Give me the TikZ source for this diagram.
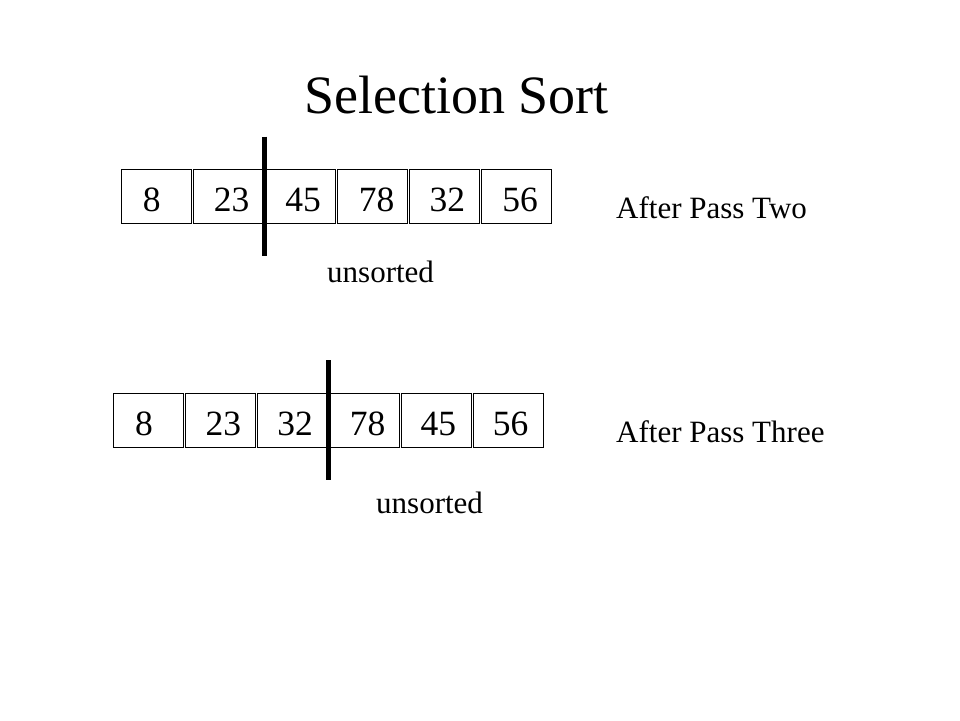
\documentclass[tikz,border=0pt]{standalone}
\usepackage{fontspec}
\setmainfont{Liberation Serif}
\begin{document}
\begin{tikzpicture}[x=1pt,y=-1pt,
  cell/.style={draw=black,line width=1pt,minimum width=70pt,minimum height=54pt,inner sep=0pt,outer sep=0pt,anchor=north west},
  num/.style={font=\fontsize{35.5}{36}\selectfont,anchor=base,inner sep=0pt},
  lbl/.style={font=\fontsize{31}{31}\selectfont,anchor=base west,inner sep=0pt},
  ttl/.style={font=\fontsize{54}{54}\selectfont,anchor=base,inner sep=0pt},
  bar/.style={line width=5pt}]
\fill[white] (0,0) rectangle (960,720);
\useasboundingbox (0,0) rectangle (960,720);
% title
\node[ttl] (title) at (456.5,113) {Selection Sort};
% top row
\foreach \i in {0,...,5} {
  \node[cell] (t\i) at (121.7+71.9*\i,169.3) {};
}
\node[num] (nt0) at (151.7,211) {8};
\node[num] (nt1) at (231.7,211) {23};
\node[num] (nt2) at (303,211) {45};
\node[num] (nt3) at (376.5,211) {78};
\node[num] (nt4) at (447.3,211) {32};
\node[num] (nt5) at (520,211) {56};
\coordinate (tbtop) at (264.3,136.7);
\coordinate (tbbot) at (264.3,256);
\draw[bar] (tbtop) -- (tbbot);
\node[lbl] (tuns) at (327,282) {unsorted};
\node[lbl] (pass2) at (616,218) {After Pass Two};
% bottom row
\foreach \i in {0,...,5} {
  \node[cell] (b\i) at (113.3+72*\i,393.3) {};
}
\node[num] (nb0) at (144,435.5) {8};
\node[num] (nb1) at (223.3,435.5) {23};
\node[num] (nb2) at (295,435.5) {32};
\node[num] (nb3) at (367.5,435.5) {78};
\node[num] (nb4) at (438.3,435.5) {45};
\node[num] (nb5) at (510.7,435.5) {56};
\coordinate (bbtop) at (328.3,360);
\coordinate (bbbot) at (328.3,480);
\draw[bar] (bbtop) -- (bbbot);
\node[lbl] (buns) at (376,513.5) {unsorted};
\node[lbl] (pass3) at (616,442) {After Pass Three};
\end{tikzpicture}
\end{document}
